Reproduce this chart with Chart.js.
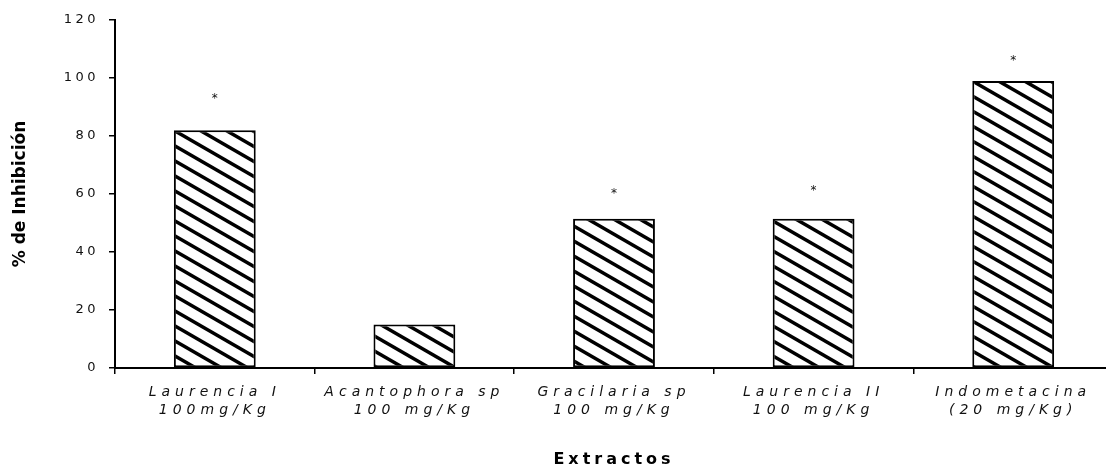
<!DOCTYPE html>
<html>
<head>
<meta charset="utf-8">
<script src="https://cdn.jsdelivr.net/npm/chart.js@4/dist/chart.umd.min.js"></script>
<style>
  html, body { margin: 0; padding: 0; background: #fff; overflow: hidden; }
  .wrap { position: relative; width: 1113px; height: 471px; }
</style>
</head>
<body>
<div class="wrap"><canvas id="inhibChart"></canvas></div>
<script>
const categories = [
  ["Laurencia I", "100mg/Kg"],
  ["Acantophora sp", "100 mg/Kg"],
  ["Gracilaria sp", "100 mg/Kg"],
  ["Laurencia II", "100 mg/Kg"],
  ["Indometacina", "(20 mg/Kg)"],
];
const inhibition = [82, 15, 51.5, 51.5, 99];
// height (in % units) where the significance asterisk sits, null = none
const starLevels = [94, null, 61, 62, 107];
const yMax = 120;
const yStep = 20;

// letter spacing per scale, the old figure font is very wide
const spacing = {
  x: { labels: "5px", title: "4px" },
  y: { labels: "3.5px", title: "0px" },
};

function stripePattern() {
  const w = 26, h = 15;
  const c = document.createElement("canvas");
  c.width = w;
  c.height = h;
  const g = c.getContext("2d");
  g.fillStyle = "#fff";
  g.fillRect(0, 0, w, h);
  g.strokeStyle = "#000";
  g.lineWidth = 3.5;
  for (let k = -1; k <= 1; k++) {
    g.beginPath();
    g.moveTo(-w, -h + k * h);
    g.lineTo(2 * w, 2 * h + k * h);
    g.stroke();
  }
  return g.createPattern(c, "repeat");
}

const spacedText = {
  id: "spacedText",
  beforeDraw(chart) {
    for (const id of Object.keys(spacing)) {
      const s = chart.scales[id];
      if (!s || s._spaced) continue;
      s._spaced = true;
      const origLabels = s.drawLabels;
      const origTitle = s.drawTitle;
      s.drawLabels = function (a) {
        const prev = this.ctx.letterSpacing;
        this.ctx.letterSpacing = spacing[id].labels;
        origLabels.call(this, a);
        this.ctx.letterSpacing = prev;
      };
      s.drawTitle = function (a) {
        const prev = this.ctx.letterSpacing;
        this.ctx.letterSpacing = spacing[id].title;
        origTitle.call(this, a);
        this.ctx.letterSpacing = prev;
      };
    }
  },
};

const stars = {
  id: "stars",
  afterDatasetsDraw(chart) {
    const ctx = chart.ctx;
    const meta = chart.getDatasetMeta(0);
    ctx.save();
    ctx.font = "12px 'DejaVu Sans'";
    ctx.fillStyle = "#111";
    ctx.textAlign = "center";
    ctx.textBaseline = "middle";
    starLevels.forEach((v, i) => {
      if (v === null) return;
      const x = meta.data[i].x;
      const y = chart.scales.y.getPixelForValue(v);
      ctx.fillText("*", x, y + 3);
    });
    ctx.restore();
  },
};

const ctx = document.getElementById("inhibChart");
new Chart(ctx, {
  type: "bar",
  data: {
    labels: categories,
    datasets: [
      {
        label: "% de Inhibición",
        data: inhibition,
        backgroundColor: stripePattern(),
        borderColor: "#000",
        borderWidth: 2,
        borderSkipped: false,
        categoryPercentage: 1,
        barPercentage: 0.41,
      },
    ],
  },
  options: {
    responsive: true,
    maintainAspectRatio: false,
    animation: false,
    layout: { padding: { top: 20, left: 0, right: 0, bottom: 0 } },
    plugins: {
      legend: { display: false },
      tooltip: { enabled: false },
    },
    scales: {
      x: {
        grid: {
          display: true,
          drawOnChartArea: false,
          drawTicks: true,
          tickLength: 6,
          color: "#000",
          lineWidth: 1.5,
        },
        border: { display: true, color: "#000", width: 2 },
        ticks: {
          color: "#111",
          font: { family: "DejaVu Sans", size: 14, style: "italic", lineHeight: 1.3 },
          padding: 9,
          maxRotation: 0,
          autoSkip: false,
        },
        title: {
          display: true,
          text: "Extractos",
          color: "#000",
          font: { family: "DejaVu Sans", size: 16, weight: "bold" },
          padding: { top: 0, bottom: 2 },
        },
        afterFit: (s) => {
          s.height = 103;
        },
      },
      y: {
        min: 0,
        max: yMax,
        grid: {
          display: true,
          drawOnChartArea: false,
          drawTicks: true,
          tickLength: 6,
          color: "#000",
          lineWidth: 1.5,
        },
        border: { display: true, color: "#000", width: 2 },
        ticks: {
          stepSize: yStep,
          color: "#111",
          font: { family: "DejaVu Sans", size: 13 },
          padding: 10,
        },
        title: {
          display: true,
          text: "% de Inhibición",
          color: "#000",
          font: { family: "DejaVu Sans", size: 17, weight: "bold" },
          padding: { top: 10, bottom: 0 },
        },
        afterFit: (s) => {
          s.width = 115;
        },
      },
    },
  },
  plugins: [spacedText, stars],
});
</script>
</body>
</html>
